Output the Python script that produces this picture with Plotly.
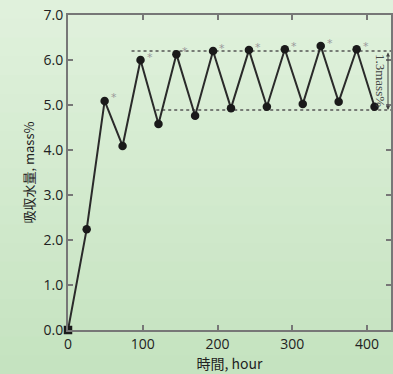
import plotly.graph_objects as go

hours = [0, 25, 49, 73, 97, 121, 145, 170, 194, 218, 242, 266, 290, 314, 338, 362, 386, 410]
uptake = [0.0, 2.24, 5.09, 4.09, 6.0, 4.58, 6.13, 4.76, 6.2, 4.93, 6.22, 4.96, 6.24, 5.02, 6.31, 5.07, 6.24, 4.96]
peak_idx = [2, 4, 6, 8, 10, 12, 14, 16]
upper_level = 6.2
lower_level = 4.89
upper_start = 85
lower_start = 118
x_end = 432
range_label = "1.3mass%"
x_ticks = [0, 100, 200, 300, 400]
y_ticks = [0, 1, 2, 3, 4, 5, 6, 7]

fig = go.Figure()

# dotted reference lines
fig.add_trace(go.Scatter(x=[upper_start, x_end], y=[upper_level, upper_level], mode="lines",
                         line=dict(color="#555", width=1.5, dash="dot"), hoverinfo="skip"))
fig.add_trace(go.Scatter(x=[lower_start, x_end], y=[lower_level, lower_level], mode="lines",
                         line=dict(color="#555", width=1.5, dash="dot"), hoverinfo="skip"))

symbols = ["square"] + ["circle"] * (len(hours) - 1)
fig.add_trace(go.Scatter(x=hours, y=uptake, mode="lines+markers",
                         line=dict(color="#2a2a2a", width=2),
                         marker=dict(color="#1a1a1a", size=8.5, symbol=symbols),
                         cliponaxis=False))

# stars next to peaks
for i in peak_idx:
    fig.add_annotation(x=hours[i], y=uptake[i], text="*", showarrow=False,
                       xshift=9, yshift=3, font=dict(size=11, color="#999", family="DejaVu Sans"))

# vertical double arrow and label
fig.add_annotation(x=428, y=lower_level, ax=428, ay=upper_level, xref="x", yref="y",
                   axref="x", ayref="y", showarrow=True, arrowhead=2, arrowside="end+start",
                   arrowsize=0.8, arrowwidth=1, arrowcolor="#444", text="")
fig.add_annotation(x=418, y=(upper_level + lower_level) / 2, text=range_label, textangle=90,
                   showarrow=False, font=dict(size=13, color="#444", family="Liberation Serif"))

# gradient background bands
n = 20
top = (224, 241, 220)
bot = (197, 227, 192)
for k in range(n):
    t = k / (n - 1)
    c = tuple(int(round(top[j] + (bot[j] - top[j]) * t)) for j in range(3))
    y1 = 1 + 15 / 315 - k * (374 / 315) / n
    y0 = y1 - (374 / 315) / n - 0.005
    fig.add_shape(type="rect", xref="paper", yref="paper", x0=-0.3, x1=1.1, y0=y0, y1=y1,
                  fillcolor="rgb(%d,%d,%d)" % c, line=dict(width=0), layer="below")

axis_common = dict(showgrid=False, zeroline=False, showline=True, linecolor="#777", linewidth=2,
                   mirror="ticks", ticks="inside", ticklen=5, tickcolor="#777", tickwidth=1.5,
                   tickfont=dict(size=14, color="#222", family="Open Sans"))

fig.update_xaxes(range=[0, x_end], tickvals=x_ticks, **axis_common,
                 title=dict(text="時間, hour", font=dict(size=14, color="#222", family="Noto Sans CJK JP"), standoff=4))
fig.update_yaxes(range=[0, 7], tickvals=y_ticks, tickformat=".1f", **axis_common,
                 title=dict(text="吸収水量, mass%", font=dict(size=13, color="#222", family="Noto Sans CJK JP"), standoff=6))

fig.update_layout(width=393, height=374, margin=dict(l=68, r=0, t=15, b=44),
                  paper_bgcolor="rgb(205,231,200)", plot_bgcolor="white", showlegend=False)

fig.write_html("out.html")
